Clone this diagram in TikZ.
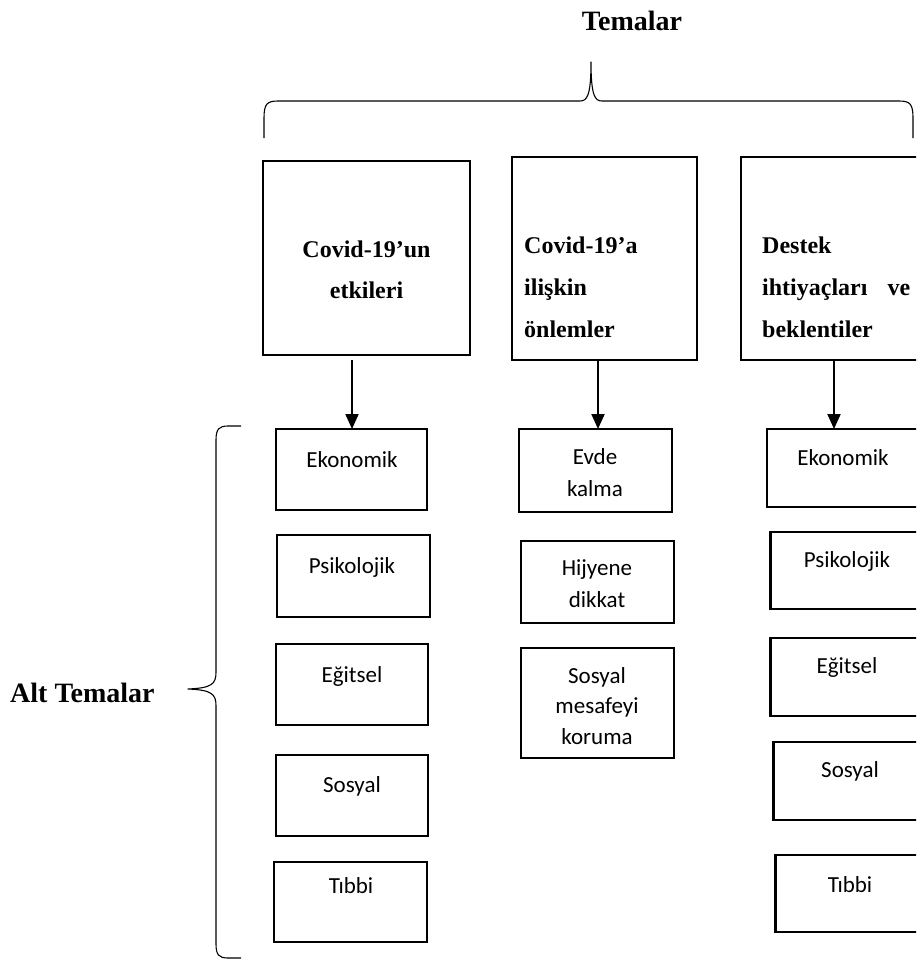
\documentclass[tikz,border=0pt]{standalone}
\usepackage{fontspec}
\setmainfont{Liberation Serif}
\newfontfamily\calibri{Carlito}
\usetikzlibrary{arrows.meta}
\begin{document}
\begin{tikzpicture}[x=1pt,y=-1pt,
  topbox/.style={draw,line width=2.5pt,inner sep=0pt,outer sep=0pt},
  subbox/.style={draw,line width=2.1pt,inner sep=0pt,outer sep=0pt,minimum width=153pt},
  headtext/.style={font=\fontsize{28}{32}\selectfont\bfseries,anchor=base,inner sep=0pt},
  toptext/.style={font=\fontsize{24}{28}\selectfont\bfseries,anchor=base,inner sep=0pt},
  subtext/.style={font=\calibri\fontsize{23}{27}\selectfont,anchor=base,inner sep=0pt},
  arr/.style={line width=2pt,-{Triangle[width=13pt,length=15pt]}},
  brace/.style={line width=1.1pt,line join=round}
]
\useasboundingbox (0,0) rectangle (916,963);
\clip (0,0) rectangle (916,963);

% headings
\node[headtext] (tem) at (632,31) {Temalar};
\node[headtext,anchor=base west] (alt) at (10,702) {Alt Temalar};

% braces
\draw[brace] (264,138) -- (264,118) .. controls (264,104) and (267,101) .. (278,101)
  -- (580,101) .. controls (587,101) and (591,96) .. (591,62)
  .. controls (591,96) and (595,101) .. (602,101)
  -- (899,101) .. controls (910,101) and (913,104) .. (913,118) -- (913,138);
\draw[brace] (241,426) -- (228,426) .. controls (219,426) and (216,429) .. (216,440)
  -- (216,672) .. controls (216,684) and (212,688) .. (188,689)
  .. controls (212,690) and (216,694) .. (216,706)
  -- (216,944) .. controls (216,955) and (219,958) .. (228,958) -- (241,958);

% top boxes
\node[topbox,minimum width=207pt,minimum height=194pt] (B1) at (366.5,258) {};
\node[topbox,minimum width=185pt,minimum height=203pt] (B2) at (604.5,258.5) {};
\node[topbox,minimum width=190pt,minimum height=203pt] (B3) at (836,258.5) {};

\node[toptext] (t1a) at (366.5,257) {Covid-19’un};
\node[toptext] (t1b) at (366.5,298) {etkileri};
\node[toptext,anchor=base west] (t2a) at (524,253) {Covid-19’a};
\node[toptext,anchor=base west] (t2b) at (524,295) {ilişkin};
\node[toptext,anchor=base west] (t2c) at (524,337) {önlemler};
\node[toptext,anchor=base west] (t3a) at (762,253) {Destek};
\node[toptext,anchor=base west] (t3b) at (762,295) {\makebox[148pt][l]{ihtiyaçları\hfill ve}};
\node[toptext,anchor=base west] (t3c) at (762,337) {beklentiler};

% column 1 sub-boxes
\node[subbox,minimum width=151pt,minimum height=81pt] (L1a) at (351.5,469.5) {};
\node[subbox,minimum width=153pt,minimum height=82pt] (L1b) at (353.5,576) {};
\node[subbox,minimum width=152pt,minimum height=81pt] (L1c) at (352,684.5) {};
\node[subbox,minimum width=152pt,minimum height=81pt] (L1d) at (352,795.5) {};
\node[subbox,minimum width=153pt,minimum height=80pt] (L1e) at (350.5,902) {};
\node[subtext] (s1a) at (352,467) {Ekonomik};
\node[subtext] (s1b) at (352,573) {Psikolojik};
\node[subtext] (s1c) at (352,682) {Eğitsel};
\node[subtext] (s1d) at (352,792) {Sosyal};
\node[subtext] (s1e) at (351,893) {Tıbbi};

% column 2 sub-boxes
\node[subbox,minimum height=83pt] (L2a) at (595.5,470.5) {};
\node[subbox,minimum height=82pt] (L2b) at (597.5,582) {};
\node[subbox,minimum height=110pt] (L2c) at (597.5,703) {};
\node[subtext] (s2a) at (595,464) {Evde};
\node[subtext] (s2b) at (595,496) {kalma};
\node[subtext] (s2c) at (597,575) {Hijyene};
\node[subtext] (s2d) at (597,607) {dikkat};
\node[subtext] (s2e) at (597,683) {Sosyal};
\node[subtext] (s2f) at (597,713) {mesafeyi};
\node[subtext] (s2g) at (597,744) {koruma};

% column 3 sub-boxes
\node[subbox,minimum height=78pt] (L3a) at (843.5,468) {};
\node[subbox,minimum height=77pt] (L3b) at (847,570.5) {};
\node[subbox,minimum height=78pt] (L3c) at (847,677) {};
\node[subbox,minimum height=78pt] (L3d) at (850,781) {};
\node[subbox,minimum height=77pt] (L3e) at (852,893.5) {};
\node[subtext] (s3a) at (843,465) {Ekonomik};
\node[subtext] (s3b) at (847,567) {Psikolojik};
\node[subtext] (s3c) at (847,673) {Eğitsel};
\node[subtext] (s3d) at (850,777) {Sosyal};
\node[subtext] (s3e) at (850,892) {Tıbbi};

% arrows
\path (B1.south -| L1a.north) ++(0.5,5) coordinate (a1s);
\draw[arr] (a1s) -- (a1s |- L1a.north);
\path (B2.south) ++(-6.5,0) coordinate (a2s);
\draw[arr] (a2s) -- (a2s |- L2a.north);
\path (B3.south) ++(-2,0) coordinate (a3s);
\draw[arr] (a3s) -- (a3s |- L3a.north);
\end{tikzpicture}
\end{document}
